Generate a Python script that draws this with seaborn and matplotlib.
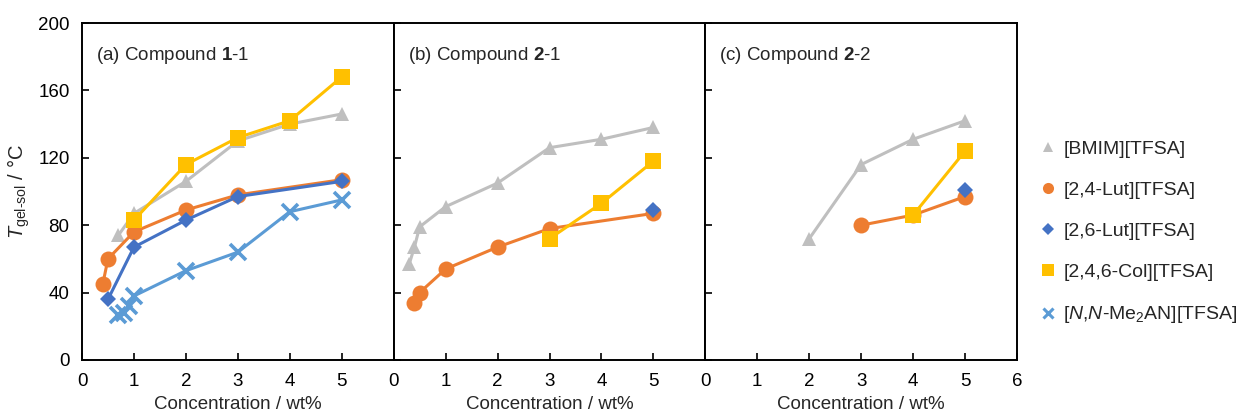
import matplotlib
matplotlib.use("Agg")
import matplotlib.pyplot as plt
import seaborn as sns
import pandas as pd
from matplotlib.lines import Line2D

# ---------------- data ----------------
series_names = ["[BMIM][TFSA]", "[2,4-Lut][TFSA]", "[2,6-Lut][TFSA]",
                "[2,4,6-Col][TFSA]", "[N,N-Me2AN][TFSA]"]
legend_labels = ["[BMIM][TFSA]", "[2,4-Lut][TFSA]", "[2,6-Lut][TFSA]",
                 "[2,4,6-Col][TFSA]", r"[$\mathit{N}$,$\mathit{N}$-Me$_{2}$AN][TFSA]"]

# Panel (a) Compound 1-1
a_bmim_x = [0.7, 1, 2, 3, 4, 5]
a_bmim_y = [74, 87, 106, 130, 140, 146]
a_lut24_x = [0.4, 0.5, 1, 2, 3, 5]
a_lut24_y = [45, 60, 76, 89, 98, 107]
a_lut26_x = [0.5, 1, 2, 3, 5]
a_lut26_y = [36, 67, 83, 97, 106]
a_col_x = [1, 2, 3, 4, 5]
a_col_y = [83, 116, 132, 142, 168]
a_me2an_x = [0.7, 0.8, 0.9, 1, 2, 3, 4, 5]
a_me2an_y = [27, 28, 32, 38, 53, 64, 88, 95]

# Panel (b) Compound 2-1
b_bmim_x = [0.3, 0.4, 0.5, 1, 2, 3, 4, 5]
b_bmim_y = [57, 67, 79, 91, 105, 126, 131, 138]
b_lut24_x = [0.4, 0.5, 1, 2, 3, 5]
b_lut24_y = [34, 40, 54, 67, 78, 87]
b_lut26_x = [5]
b_lut26_y = [89]
b_col_x = [3, 4, 5]
b_col_y = [72, 93, 118]

# Panel (c) Compound 2-2
c_bmim_x = [2, 3, 4, 5]
c_bmim_y = [72, 116, 131, 142]
c_lut24_x = [3, 4, 5]
c_lut24_y = [80, 86, 97]
c_lut26_x = [5]
c_lut26_y = [101]
c_col_x = [4, 5]
c_col_y = [86, 124]

panel_titles = [r"(a) Compound $\mathbf{1}$-1",
                r"(b) Compound $\mathbf{2}$-1",
                r"(c) Compound $\mathbf{2}$-2"]
y_ticks = [0, 40, 80, 120, 160, 200]

# ---------------- style ----------------
sns.set_style("ticks")
plt.rcParams["font.family"] = ["Liberation Sans", "DejaVu Sans"]
plt.rcParams["mathtext.fontset"] = "custom"
plt.rcParams["mathtext.rm"] = "Liberation Sans"
plt.rcParams["mathtext.it"] = "Liberation Sans:italic"
plt.rcParams["mathtext.bf"] = "Liberation Sans:bold"

colors = ["#BFBFBF", "#ED7D31", "#4472C4", "#FFC000", "#5B9BD5"]
markers = ["^", "o", "D", "s", "x"]
msizes = [10.5, 11.5, 8.5, 12, 12]

panels = [
    [(a_bmim_x, a_bmim_y), (a_lut24_x, a_lut24_y), (a_lut26_x, a_lut26_y),
     (a_col_x, a_col_y), (a_me2an_x, a_me2an_y)],
    [(b_bmim_x, b_bmim_y), (b_lut24_x, b_lut24_y), (b_lut26_x, b_lut26_y),
     (b_col_x, b_col_y), None],
    [(c_bmim_x, c_bmim_y), (c_lut24_x, c_lut24_y), (c_lut26_x, c_lut26_y),
     (c_col_x, c_col_y), None],
]

FS = 13.5

fig = plt.figure(figsize=(12.45, 4.16), dpi=100)
left, right, bottom, top = 82 / 1245, 1017 / 1245, 1 - 360 / 416, 1 - 23 / 416
w = (right - left) / 3
axes = [fig.add_axes([left + i * w, bottom, w, top - bottom]) for i in range(3)]

for i, ax in enumerate(axes):
    for k, d in enumerate(panels[i]):
        if d is None:
            continue
        df = pd.DataFrame({"x": d[0], "y": d[1]})
        mk = markers[k]
        kw = dict(marker=mk, markersize=msizes[k], color=colors[k],
                  linewidth=2.2, markeredgecolor=colors[k])
        if mk == "x":
            kw["markeredgewidth"] = 2.6
        else:
            kw["markeredgewidth"] = 0
        sns.lineplot(data=df, x="x", y="y", ax=ax, sort=False,
                     legend=False, **kw)
    ax.set_xlim(0, 6)
    ax.set_ylim(0, 200)
    ax.set_yticks(y_ticks)
    if i < 2:
        ax.set_xticks([0, 1, 2, 3, 4, 5])
    else:
        ax.set_xticks([0, 1, 2, 3, 4, 5, 6])
    ax.tick_params(direction="in", length=5, width=1.2, labelsize=FS,
                   colors="black", pad=9)
    if i > 0:
        ax.tick_params(axis="y", labelleft=False)
    for s in ax.spines.values():
        s.set_linewidth(1.4)
        s.set_color("black")
    ax.set_xlabel("Concentration / wt%", fontsize=FS, labelpad=5)
    ax.set_ylabel("")
    ax.text(0.045, 0.905, panel_titles[i], transform=ax.transAxes,
            fontsize=FS, ha="left", va="center")

axes[0].set_ylabel(r"$\mathit{T}_{\mathrm{gel\text{-}sol}}$ / °C", fontsize=14.5,
                   labelpad=4)

handles = [Line2D([], [], linestyle="none", marker=markers[k], color=colors[k],
                  markersize=[7, 8, 6, 8, 7][k],
                  markeredgewidth=(2.2 if markers[k] == "x" else 0))
           for k in range(5)]
fig.legend(handles, legend_labels, loc="center left",
           bbox_to_anchor=(1040 / 1245, 1 - 233 / 416), frameon=False,
           fontsize=14, labelspacing=1.2, handlelength=0.8,
           handletextpad=0.4, borderaxespad=0, borderpad=0)

fig.savefig("out.png", dpi=100)
